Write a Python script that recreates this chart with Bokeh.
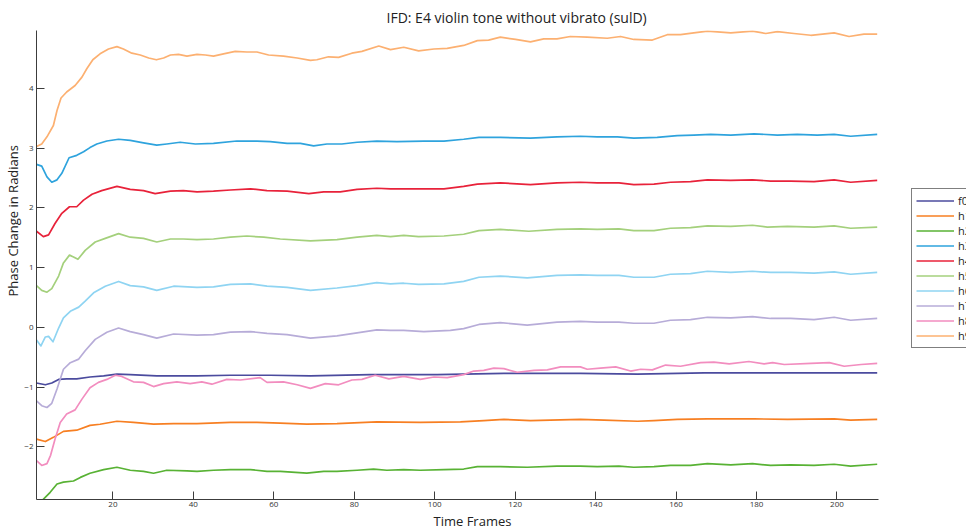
from bokeh.plotting import figure
from bokeh.models import Range1d, FixedTicker, Legend, LegendItem, Title
from bokeh.embed import file_html
from bokeh.resources import INLINE

# Instantaneous frequency deviation per partial: (time frame, phase change in radians)
f0 = [(1, -0.93), (3.2, -0.96), (4.8, -0.93), (6.5, -0.87), (8.5, -0.86), (11, -0.86), (14.3, -0.83),
      (17.7, -0.81), (21, -0.78), (24.3, -0.79), (30.9, -0.81), (40.9, -0.81), (49.2, -0.80), (59.1, -0.80),
      (69.1, -0.81), (84, -0.79), (100.6, -0.79), (117.2, -0.77), (136.2, -0.77), (150.4, -0.78),
      (167, -0.76), (183.5, -0.76), (210, -0.76)]

h1 = [(1, -1.87), (3.2, -1.91), (5.2, -1.84), (7.7, -1.74), (11, -1.72), (14.3, -1.64), (16.8, -1.62),
      (21, -1.57), (25.1, -1.59), (30.1, -1.62), (35.1, -1.61), (40.9, -1.61), (49.2, -1.59), (55.8, -1.59),
      (61.6, -1.60), (68.2, -1.62), (75.7, -1.61), (85.6, -1.58), (96.4, -1.59), (106.4, -1.58),
      (112.2, -1.56), (117.2, -1.54), (123.8, -1.56), (136.2, -1.54), (142.1, -1.55), (150.4, -1.57),
      (154.5, -1.56), (160.3, -1.54), (167.8, -1.53), (179.4, -1.53), (187.7, -1.54), (199.3, -1.53),
      (203.4, -1.55), (210, -1.54)]

h2 = [(1, -2.90), (2.5, -2.89), (4.4, -2.76), (6.1, -2.62), (7.7, -2.59), (10.2, -2.57), (11.9, -2.51),
      (14.3, -2.44), (17.7, -2.38), (21, -2.34), (24.3, -2.39), (27.6, -2.41), (30.1, -2.44), (33.4, -2.39),
      (38.4, -2.40), (40.9, -2.41), (45, -2.39), (49.2, -2.38), (54.2, -2.38), (58.3, -2.41), (61.6, -2.41),
      (68.2, -2.44), (72.4, -2.41), (75.7, -2.41), (80.7, -2.39), (84.8, -2.37), (88.1, -2.39),
      (92.3, -2.38), (96.4, -2.39), (102.3, -2.38), (107.2, -2.37), (110.6, -2.33), (116.3, -2.33),
      (123, -2.34), (130.4, -2.32), (136.2, -2.32), (140.4, -2.33), (145.8, -2.32), (149.5, -2.34),
      (154.5, -2.33), (158.6, -2.31), (163.6, -2.31), (167.8, -2.28), (173.6, -2.30), (179, -2.28),
      (183.5, -2.31), (188.5, -2.30), (194.3, -2.31), (199.3, -2.29), (203.4, -2.32), (210, -2.29)]

h3 = [(1, 2.73), (2.3, 2.70), (3.6, 2.52), (4.8, 2.43), (6.1, 2.47), (7.3, 2.58), (9.1, 2.84), (11, 2.88),
      (12.7, 2.94), (14.3, 3.01), (16, 3.07), (18.5, 3.12), (21.4, 3.15), (24.3, 3.13), (27.6, 3.09),
      (30.9, 3.05), (33.4, 3.07), (36.7, 3.10), (40.5, 3.07), (45, 3.08), (50.8, 3.12), (55.8, 3.12),
      (59.1, 3.11), (63.3, 3.08), (66.6, 3.08), (69.9, 3.04), (73.2, 3.07), (76.9, 3.07), (80.7, 3.10),
      (85.6, 3.12), (90.6, 3.11), (97.3, 3.12), (102.3, 3.12), (107.2, 3.15), (111, 3.18), (116.3, 3.18),
      (123.8, 3.17), (130.4, 3.19), (136.2, 3.20), (140.4, 3.19), (145.4, 3.19), (149.5, 3.17),
      (155.3, 3.18), (160.3, 3.21), (164.4, 3.22), (168.6, 3.23), (173.6, 3.22), (179.4, 3.24),
      (185.2, 3.22), (190.1, 3.23), (195.1, 3.22), (199.3, 3.23), (203.4, 3.20), (210, 3.23)]

h4 = [(1, 1.61), (2.7, 1.52), (4, 1.55), (5.6, 1.74), (7.3, 1.91), (9.2, 2.02), (11, 2.02), (12.7, 2.13),
      (14.8, 2.23), (17.2, 2.29), (21, 2.36), (24.3, 2.31), (27.6, 2.29), (30.5, 2.24), (34.3, 2.28),
      (37.5, 2.29), (40.9, 2.27), (45, 2.28), (49.2, 2.30), (54.2, 2.32), (58.3, 2.29), (63.3, 2.28),
      (68.7, 2.24), (72.4, 2.27), (76.5, 2.27), (80.7, 2.31), (85.6, 2.33), (89, 2.32), (93.9, 2.32),
      (102.3, 2.32), (107.2, 2.36), (110.6, 2.40), (116.3, 2.42), (123.8, 2.39), (130.4, 2.42),
      (136.2, 2.43), (140.4, 2.42), (145.8, 2.42), (149.5, 2.39), (154.5, 2.40), (158.6, 2.43),
      (163.6, 2.44), (167.8, 2.47), (173.6, 2.46), (179, 2.47), (183.5, 2.45), (188.5, 2.45),
      (194.3, 2.44), (199.3, 2.47), (203.4, 2.43), (210, 2.46)]

h5 = [(1, 0.70), (2.3, 0.62), (3.6, 0.59), (4.8, 0.65), (6.5, 0.86), (7.7, 1.08), (9.2, 1.21), (10.2, 1.18),
      (11.3, 1.14), (13.1, 1.29), (15.6, 1.43), (18.1, 1.49), (21.4, 1.57), (24.3, 1.51), (27.6, 1.49),
      (30.9, 1.43), (34.3, 1.48), (37.5, 1.48), (40.9, 1.47), (45, 1.48), (49.2, 1.51), (53.3, 1.53),
      (57.5, 1.51), (61.6, 1.48), (69.1, 1.45), (75.7, 1.47), (80.7, 1.51), (85.6, 1.54), (89, 1.52),
      (92.3, 1.54), (96, 1.52), (102.3, 1.53), (107.2, 1.56), (111, 1.62), (116.3, 1.64), (123.4, 1.61),
      (130.4, 1.64), (136.2, 1.65), (140.4, 1.64), (145.8, 1.65), (149.5, 1.62), (154.5, 1.62),
      (158.6, 1.66), (163.6, 1.67), (167.8, 1.70), (173.6, 1.69), (179, 1.71), (182.7, 1.68),
      (187.7, 1.69), (194.3, 1.68), (199.3, 1.70), (203.4, 1.66), (210, 1.68)]

h6 = [(1, -0.21), (2.1, -0.31), (3.2, -0.16), (4, -0.15), (5.1, -0.24), (6.5, -0.01), (7.7, 0.16),
      (9.4, 0.27), (11.5, 0.34), (13.1, 0.44), (15.2, 0.58), (18.1, 0.69), (21.4, 0.77), (24.3, 0.70),
      (27.6, 0.68), (30.9, 0.62), (35.1, 0.69), (40.9, 0.67), (45, 0.68), (49.2, 0.72), (54.2, 0.73),
      (58.3, 0.69), (63.3, 0.67), (69.1, 0.62), (75.7, 0.66), (80.7, 0.70), (85.6, 0.75), (89, 0.73),
      (92.3, 0.74), (96, 0.72), (102.3, 0.73), (107.2, 0.77), (111, 0.84), (116.3, 0.86), (123, 0.83),
      (130.4, 0.87), (136.2, 0.88), (140.4, 0.87), (145.8, 0.87), (149.5, 0.84), (154.5, 0.84),
      (158.6, 0.89), (163.6, 0.90), (167.8, 0.94), (173.6, 0.92), (179, 0.94), (183.5, 0.92),
      (188.5, 0.92), (194.3, 0.91), (199.3, 0.93), (203.4, 0.89), (210, 0.92)]

h7 = [(1, -1.23), (2.3, -1.31), (3.6, -1.34), (4.8, -1.27), (6.1, -1.03), (7.7, -0.70), (9.4, -0.59),
      (11.5, -0.53), (13.1, -0.39), (15.6, -0.20), (18.5, -0.08), (21.4, -0.01), (24.3, -0.07),
      (27.6, -0.12), (30.9, -0.18), (35.1, -0.11), (40.9, -0.13), (45, -0.12), (49.2, -0.08),
      (54.2, -0.07), (58.3, -0.10), (63.3, -0.12), (69.1, -0.18), (75.7, -0.14), (80.7, -0.09),
      (85.6, -0.04), (89, -0.05), (92.3, -0.05), (97.3, -0.07), (103.9, -0.05), (107.2, -0.02),
      (111, 0.05), (116.3, 0.08), (123, 0.04), (130.4, 0.09), (136.2, 0.10), (140.4, 0.09),
      (145.8, 0.09), (149.5, 0.07), (154.5, 0.07), (158.6, 0.12), (163.6, 0.13), (167.8, 0.17),
      (173.6, 0.16), (179, 0.18), (183.5, 0.15), (188.5, 0.15), (194.3, 0.13), (199.3, 0.17),
      (203.4, 0.12), (210, 0.15)]

h8 = [(1, -2.23), (2.3, -2.31), (3.6, -2.28), (4.5, -2.14), (5.6, -1.87), (6.9, -1.59), (8.5, -1.45),
      (10.6, -1.38), (12.3, -1.20), (14.3, -1.01), (16.4, -0.92), (18.5, -0.87), (20.6, -0.80),
      (22.2, -0.82), (25.1, -0.91), (27.6, -0.92), (30.1, -0.99), (32.6, -0.94), (35.9, -0.91),
      (39.2, -0.94), (42.1, -0.91), (44.6, -0.95), (48.3, -0.87), (51.7, -0.88), (56.6, -0.84),
      (58.3, -0.92), (62.4, -0.91), (65.8, -0.96), (69.1, -1.02), (72.8, -0.94), (76.1, -0.96),
      (79.4, -0.88), (81.9, -0.87), (85.2, -0.80), (88.6, -0.86), (92.3, -0.82), (96.4, -0.87),
      (99.8, -0.83), (103.1, -0.84), (107.2, -0.79), (109.7, -0.73), (112.2, -0.72), (114.7, -0.68),
      (117.2, -0.69), (120.5, -0.75), (124.7, -0.72), (128, -0.71), (131.3, -0.66), (136.2, -0.66),
      (137.9, -0.70), (141.2, -0.68), (145, -0.66), (148.7, -0.73), (151.2, -0.70), (154.1, -0.71),
      (157.4, -0.63), (161.1, -0.65), (166.1, -0.59), (169.4, -0.58), (173.2, -0.61), (178.1, -0.57),
      (181.9, -0.61), (184, -0.59), (186.9, -0.62), (193.5, -0.60), (198.1, -0.59), (201.8, -0.65),
      (206, -0.62), (210, -0.60)]

h9 = [(1, 3.03), (2.3, 3.07), (3.6, 3.19), (5.2, 3.38), (6.1, 3.63), (7.1, 3.84), (8.5, 3.94),
      (10.6, 4.05), (12.3, 4.19), (13.5, 4.33), (15, 4.48), (16.8, 4.58), (18.9, 4.66), (21, 4.70),
      (22.6, 4.66), (24.7, 4.59), (26.8, 4.56), (28.9, 4.51), (30.8, 4.48), (32.6, 4.51), (34.3, 4.56),
      (36.3, 4.57), (38.4, 4.54), (40.9, 4.57), (43, 4.56), (45, 4.54), (47.5, 4.58), (50.4, 4.62),
      (53.3, 4.61), (55.8, 4.61), (58.7, 4.56), (62.4, 4.54), (65.8, 4.51), (69.1, 4.47), (70.7, 4.48),
      (73.6, 4.53), (76.1, 4.52), (79.4, 4.59), (81.9, 4.62), (86.1, 4.71), (89, 4.65), (92.3, 4.69),
      (96, 4.63), (99.8, 4.66), (103.1, 4.67), (107.2, 4.72), (110.6, 4.80), (113.4, 4.81),
      (116.3, 4.86), (120.1, 4.82), (123.8, 4.78), (127.1, 4.83), (130.4, 4.83), (133.7, 4.87),
      (137.9, 4.86), (142.9, 4.84), (146.2, 4.87), (149.5, 4.82), (154.1, 4.81), (157.8, 4.90),
      (161.1, 4.90), (164.4, 4.93), (167.8, 4.96), (173.6, 4.93), (179, 4.96), (182.3, 4.92),
      (185.2, 4.95), (189.3, 4.92), (193.5, 4.89), (199.3, 4.93), (203, 4.87), (206.7, 4.91), (210, 4.91)]

series_names = ["f0", "h1", "h2", "h3", "h4", "h5", "h6", "h7", "h8", "h9"]
series_data = [f0, h1, h2, h3, h4, h5, h6, h7, h8, h9]
series_colors = ["#4b4b9e", "#f77f22", "#58b234", "#2ea3dd", "#e8223a",
                 "#a4d07c", "#8fd4f2", "#b7acd8", "#f28dbf", "#fcb071"]

x_ticks = [20, 40, 60, 80, 100, 120, 140, 160, 180, 200]
y_ticks = [-2, -1, 0, 1, 2, 3, 4]

FONT = "Open Sans"
AXIS_COLOR = "#3c3c3c"
TEXT_COLOR = "#222222"

# the frame runs to the right edge so the legend can sit beside the data;
# the x axis itself is bounded to the data extent (frames 1..210)
p = figure(width=966, height=529, output_backend="svg", toolbar_location=None,
           x_range=Range1d(1, 232.2), y_range=Range1d(-2.88, 4.97),
           min_border_left=36, min_border_right=0, min_border_top=30, min_border_bottom=28)
p.outline_line_color = None
p.grid.visible = False
p.background_fill_color = "white"
p.border_fill_color = "white"

p.title.text = "IFD: E4 violin tone without vibrato (sulD)"
p.title.align = "left"
p.title.offset = 350
p.title.standoff = 8
p.title.text_font = FONT
p.title.text_font_size = "14px"
p.title.text_font_style = "normal"
p.title.text_color = TEXT_COLOR

for ax in (p.xaxis[0], p.yaxis[0]):
    ax.axis_line_color = AXIS_COLOR
    ax.axis_line_width = 1
    ax.major_tick_line_color = AXIS_COLOR
    ax.major_tick_in = 8
    ax.major_tick_out = 0
    ax.minor_tick_line_color = None
    ax.major_label_text_font = FONT
    ax.major_label_text_font_size = "8px"
    ax.major_label_text_color = "#333333"

p.xaxis.bounds = (1, 210.3)
p.xaxis.ticker = FixedTicker(ticks=x_ticks)
p.yaxis.ticker = FixedTicker(ticks=y_ticks)
p.xaxis.major_label_standoff = 2
p.yaxis.major_label_standoff = 3
p.yaxis.major_label_overrides = {t: ("\u2212" + str(-t) if t < 0 else str(t)) for t in y_ticks}

# axis captions as side titles so they can sit off the frame centre
p.add_layout(Title(text="Time Frames", align="left", offset=397, standoff=0,
                   text_font=FONT, text_font_size="13px", text_font_style="normal",
                   text_color=TEXT_COLOR), "below")
p.add_layout(Title(text="Phase Change in Radians", align="left", offset=203, standoff=0,
                   text_font=FONT, text_font_size="13px", text_font_style="normal",
                   text_color=TEXT_COLOR), "left")

items = []
for name, pts, color in zip(series_names, series_data, series_colors):
    xs = [pt[0] for pt in pts]
    ys = [pt[1] for pt in pts]
    r = p.line(xs, ys, line_color=color, line_width=1.7, line_join="round")
    items.append(LegendItem(label=name, renderers=[r]))

legend = Legend(items=items, location=(875, 151), margin=0, padding=4, spacing=0,
                label_height=15, glyph_height=15, glyph_width=38, label_standoff=4,
                label_text_font=FONT, label_text_font_size="11px", label_text_color=TEXT_COLOR,
                border_line_color="black", border_line_width=1,
                background_fill_color="white", background_fill_alpha=1)
p.add_layout(legend)

open("out.html", "w").write(file_html(p, INLINE))
